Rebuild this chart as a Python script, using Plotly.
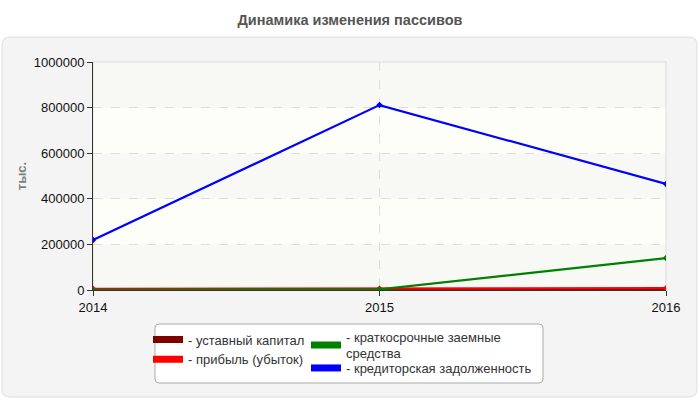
import plotly.graph_objects as go

years = [2014, 2015, 2016]
ustavny = [10, 10, 10]
pribyl = [5000, 5000, 8000]
kratkosroch = [0, 3000, 140000]
kreditor = [219000, 811000, 465000]

names = ["- уставный капитал", "- прибыль (убыток)",
         "- краткосрочные заемные<br>средства", "- кредиторская задолженность"]
colors = ["#800000", "#ff0000", "#008000", "#0000ff"]
series = [ustavny, pribyl, kratkosroch, kreditor]
legends = ["legend", "legend", "legend2", "legend3"]

W, H = 700, 400
L, R, T, B = 93, 666, 62, 290
YMAX = 1000000


def px(x):
    return (x - L) / (R - L)


def py(y):
    return (B - y) / (B - T)


def rounded(x0, y0, x1, y1, r):
    p = [
        f"M {px(x0 + r)} {py(y0)}",
        f"L {px(x1 - r)} {py(y0)}",
        f"Q {px(x1)} {py(y0)} {px(x1)} {py(y0 + r)}",
        f"L {px(x1)} {py(y1 - r)}",
        f"Q {px(x1)} {py(y1)} {px(x1 - r)} {py(y1)}",
        f"L {px(x0 + r)} {py(y1)}",
        f"Q {px(x0)} {py(y1)} {px(x0)} {py(y1 - r)}",
        f"L {px(x0)} {py(y0 + r)}",
        f"Q {px(x0)} {py(y0)} {px(x0 + r)} {py(y0)}",
        "Z",
    ]
    return " ".join(p)


fig = go.Figure()
for nm, col, vals in zip(names, colors, series):
    fig.add_trace(go.Scatter(
        x=years, y=vals, mode="lines+markers", name=nm,
        line=dict(color=col, width=2.2),
        marker=dict(color=col, size=5, symbol="diamond"),
        showlegend=False, hoverinfo="x+y+name",
    ))
# legend swatches
for nm, col, lg in zip(names, colors, legends):
    fig.add_trace(go.Scatter(
        x=[None], y=[None], mode="lines", name=nm,
        line=dict(color=col, width=7), legend=lg,
    ))

shapes = []
# card
shapes.append(dict(type="path", xref="paper", yref="paper",
                   path=rounded(2, 37, 697, 397, 8),
                   fillcolor="#f4f4f4", line=dict(color="#dddddd", width=1),
                   layer="below"))
# plot background bands
ticks = list(range(0, YMAX + 1, 200000))
for i in range(len(ticks) - 1):
    shapes.append(dict(type="rect", xref="paper", yref="y",
                       x0=0, x1=1, y0=ticks[i], y1=ticks[i + 1],
                       fillcolor="#f8f8f4" if i % 2 == 0 else "#fefef8",
                       line=dict(width=0), layer="below"))
# plot border (light)
shapes.append(dict(type="rect", xref="paper", yref="paper", x0=0, x1=1, y0=0, y1=1,
                   fillcolor="rgba(0,0,0,0)", line=dict(color="#dddddd", width=1),
                   layer="below"))
# legend box
shapes.append(dict(type="path", xref="paper", yref="paper",
                   path=rounded(155, 324, 543, 383, 4),
                   fillcolor="#ffffff", line=dict(color="#aaaaaa", width=1),
                   layer="below"))

legend_common = dict(xanchor="left", yanchor="middle", bgcolor="rgba(0,0,0,0)",
                     borderwidth=0, tracegroupgap=0, itemwidth=30,
                     font=dict(size=13, color="#333333"))

fig.update_layout(
    width=W, height=H,
    margin=dict(l=L, r=W - R, t=T, b=H - B, autoexpand=False),
    paper_bgcolor="#ffffff",
    plot_bgcolor="rgba(0,0,0,0)",
    font=dict(family="Liberation Sans, Arial, sans-serif", size=13, color="#111111"),
    title=dict(text="<b>Динамика изменения пассивов</b>", x=0.5, xref="container",
               y=1 - 20 / H, yref="container", yanchor="middle",
               font=dict(size=14.5, color="#555555")),
    shapes=shapes,
    xaxis=dict(range=[2014, 2016], tickvals=years, ticktext=[str(y) for y in years],
               showgrid=True, gridcolor="#dddddd", griddash="dash", gridwidth=1,
               showline=True, linecolor="#333333", linewidth=1,
               ticks="outside", ticklen=5, tickcolor="#333333",
               zeroline=False, fixedrange=True),
    yaxis=dict(range=[0, YMAX], dtick=200000, tickformat="d",
               showgrid=True, gridcolor="#dddddd", griddash="dash", gridwidth=1,
               showline=True, linecolor="#333333", linewidth=1,
               ticks="outside", ticklen=5, tickcolor="#333333",
               zeroline=False, fixedrange=True,
               title=dict(text="<b>тыс.</b>", standoff=4,
                          font=dict(size=13, color="#808080"))),
    legend=dict(x=px(148), y=py(349.5), **legend_common),
    legend2=dict(x=px(306), y=py(345), **legend_common),
    legend3=dict(x=px(306), y=py(368), **legend_common),
)

fig.write_html("out.html")
